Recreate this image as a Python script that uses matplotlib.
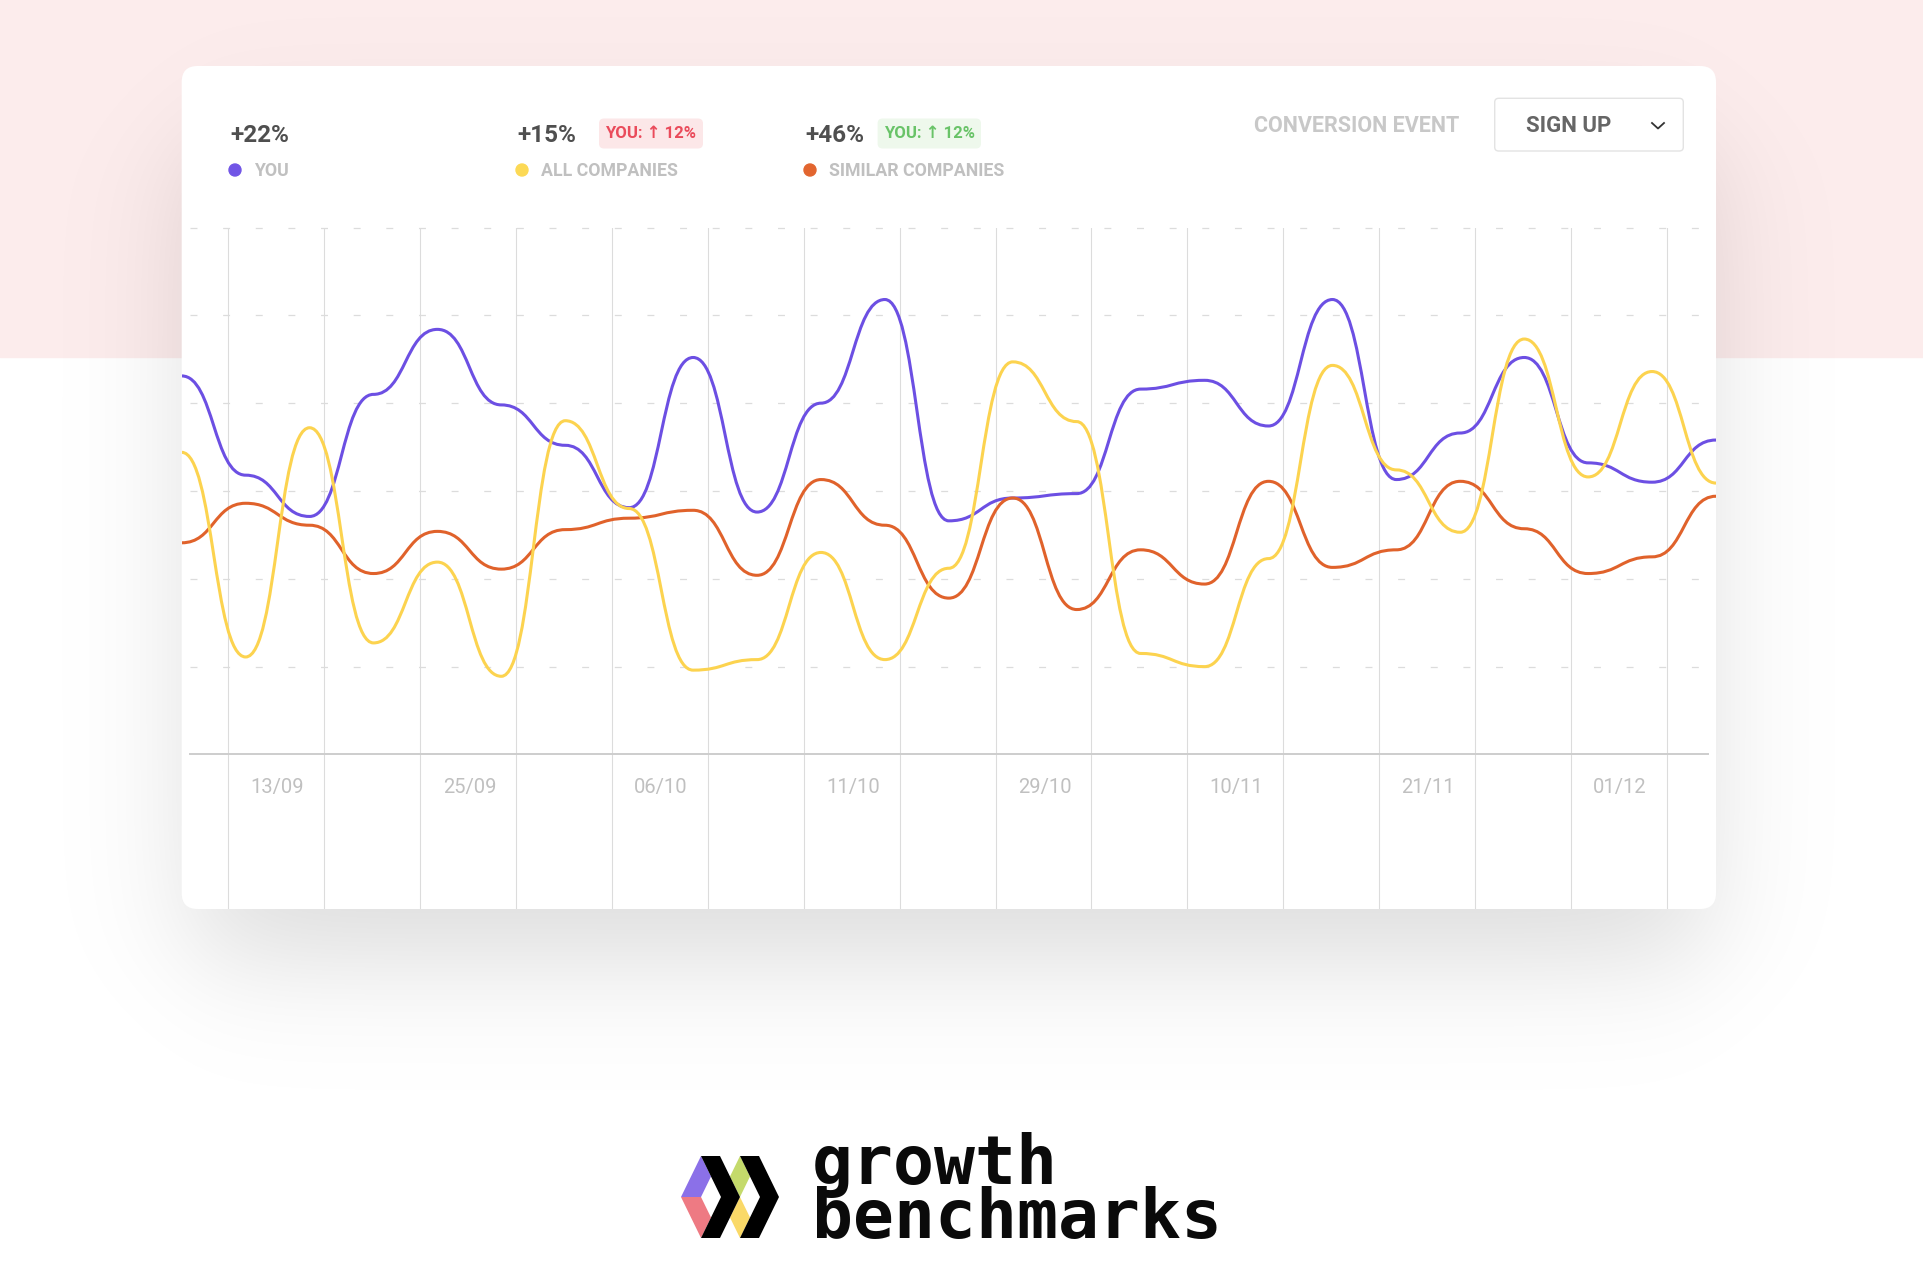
import numpy as np
import matplotlib
matplotlib.use("Agg")
import matplotlib.pyplot as plt
from matplotlib.path import Path
from matplotlib.patches import PathPatch, Rectangle, FancyBboxPatch, Polygon, Circle

plt.rcParams['font.family'] = ['Roboto', 'DejaVu Sans']
plt.rcParams['lines.scale_dashes'] = False

# ---- data (25 evenly spaced points per series) ----
you = [43.1, 31.8, 27.1, 41.0, 48.4, 39.8, 35.2, 28.1, 45.2, 27.6, 40.0, 51.8, 26.6,
       29.2, 29.7, 41.6, 42.6, 37.4, 51.8, 31.3, 36.6, 45.2, 33.2, 31.0, 35.8]
all_companies = [34.4, 11.1, 37.2, 12.7, 21.9, 8.9, 38.0, 28.0, 9.6, 10.8, 23.0, 10.8, 21.2,
                 44.7, 37.9, 11.5, 10.0, 22.3, 44.3, 32.4, 25.3, 47.3, 31.6, 43.6, 30.9]
similar = [24.1, 28.6, 26.1, 20.6, 25.4, 21.1, 25.6, 26.9, 27.8, 20.4, 31.3, 26.1, 17.8,
           29.2, 16.5, 23.3, 19.4, 31.1, 21.3, 23.3, 31.1, 25.7, 20.6, 22.5, 29.4]
date_labels = ['13/09', '25/09', '06/10', '11/10', '29/10', '10/11', '21/11', '01/12']

series_names = ['YOU', 'ALL COMPANIES', 'SIMILAR COMPANIES']
series_totals = ['+22%', '+15%', '+46%']
badges = [None, ('YOU: \u2191 12%', '#ea4b5b', '#fce7e8'), ('YOU: \u2191 12%', '#69c368', '#eef8ec')]
colors = ['#6c4fe3', '#fcd34f', '#e0622b']
dot_colors = ['#7155e6', '#fcd955', '#e2652f']


def bump_path(xs, ys):
    # smooth path with flat tangents at every point (bezier, control points at mid x)
    verts = [(xs[0], ys[0])]
    codes = [Path.MOVETO]
    for i in range(len(xs) - 1):
        mx = (xs[i] + xs[i + 1]) / 2
        verts += [(mx, ys[i]), (mx, ys[i + 1]), (xs[i + 1], ys[i + 1])]
        codes += [Path.CURVE4] * 3
    return Path(verts, codes)


W, H = 1924, 1286
fig = plt.figure(figsize=(W / 100, H / 100), dpi=100)

# background layer in pixel coordinates
bg = fig.add_axes([0, 0, 1, 1])
bg.axis('off')
bg.add_patch(Rectangle((0, 0), W, 357, color='#fcecec', zorder=0))

card_l, card_r, card_t, card_b = 181.7, 1716, 66, 909

# soft card shadow
sw, sh = W // 4, H // 4
gx = (np.arange(sw) + 0.5) * 4
gy = (np.arange(sh) + 0.5) * 4
cdf = lambda z: 1 / (1 + np.exp(-1.702 * z))
sig = 62
sx = cdf((gx - (card_l + 10)) / sig) - cdf((gx - (card_r - 10)) / sig)
sy = cdf((gy - (card_t + 80)) / sig) - cdf((gy - (card_b + 50)) / sig)
shade = np.zeros((sh, sw, 4))
shade[..., 3] = 0.14 * np.outer(sy, sx)
bg.imshow(shade, extent=(0, W, H, 0), interpolation='bilinear', aspect='auto', zorder=1)

bg.add_patch(FancyBboxPatch((card_l, card_t), card_r - card_l, card_b - card_t,
                            boxstyle='round,pad=0,rounding_size=16', fc='white', ec='none', zorder=2))
bg.set_xlim(0, W)
bg.set_ylim(H, 0)

# header: totals, badges, legend
stat_x = [230, 517, 805]
badge_box = [None, (599, 703), (877.6, 981)]
for i in range(3):
    bg.text(stat_x[i], 142, series_totals[i], fontsize=17.5, fontweight='bold', color='#4f4f4f', zorder=3)
    bg.add_patch(Circle((stat_x[i] + 5, 170), 6, color=dot_colors[i], zorder=3))
    bg.text(stat_x[i] + 24, 175.5, series_names[i], fontsize=12.8, fontweight='bold', color='#c0c0c0', zorder=3)
    if badges[i] is not None:
        txt, fg, bgc = badges[i]
        x0, x1 = badge_box[i]
        bg.add_patch(FancyBboxPatch((x0, 118.5), x1 - x0, 30, boxstyle='round,pad=0,rounding_size=5',
                                    fc=bgc, ec='none', zorder=3))
        bg.text((x0 + x1) / 2, 138.5, txt, fontsize=12, fontweight='bold', color=fg,
                ha='center', zorder=4)

bg.text(1254, 132, 'CONVERSION EVENT', fontsize=15.5, fontweight='bold', color='#c8c8c8', zorder=3)
bg.add_patch(FancyBboxPatch((1494.7, 98.3), 188.6, 52.7, boxstyle='round,pad=0,rounding_size=4',
                            fc='white', ec='#e3e3e3', lw=1, zorder=3))
bg.text(1526.5, 132.5, 'SIGN UP', fontsize=16, fontweight='bold', color='#666666', zorder=4)
bg.plot([1652, 1658, 1664], [123, 128.5, 123], color='#333333', lw=1.3, zorder=4)

# logo
T, M, B = 1156, 1197, 1238
s_run, w_ch = 20, 19
x0 = 701
x1 = x0 + w_ch + s_run
q1, q3 = (T + M) / 2, (M + B) / 2
logo_shapes = [
    ([(x0, T), (x0 + s_run / 2, q1), (x0, M), (x0 - s_run, M)], '#8b70e8'),
    ([(x0 - s_run, M), (x0, M), (x0 + s_run / 2, q3), (x0, B)], '#ee7a83'),
    ([(x1, T), (x1 + s_run / 2, q1), (x1, M), (x1 - s_run / 2, q1)], '#c4da6b'),
    ([(x1, M), (x1 + s_run / 2, q3), (x1, B), (x1 - s_run / 2, q3)], '#fad968'),
    ([(x0, T), (x0 + w_ch, T), (x0 + w_ch + s_run, M), (x0 + w_ch, B), (x0, B), (x0 + s_run, M)], '#000000'),
    ([(x1, T), (x1 + w_ch, T), (x1 + w_ch + s_run, M), (x1 + w_ch, B), (x1, B), (x1 + s_run, M)], '#000000'),
]
for pts, c in logo_shapes:
    bg.add_patch(Polygon(pts, closed=True, fc=c, ec='none', zorder=3))
bg.text(812, 1238, 'growth\nbenchmarks', family='DejaVu Sans Mono', fontweight='bold', fontsize=49,
        color='#0a0a0a', va='baseline', linespacing=0.77, zorder=3)

# chart axes
y_top, y_zero, px_per_unit = 227.5, 754.5, 8.78
y_bottom_val = (y_zero - card_b) / px_per_unit
ax = fig.add_axes([card_l / W, (H - card_b) / H, (card_r - card_l) / W, (card_b - y_top) / H])
ax.set_facecolor('none')
n = len(you)
xs = np.arange(n)
ax.set_xlim(0, n - 1)
ax.set_ylim(y_bottom_val, 60)

for k in range(16):
    ax.axvline(0.73 + 1.5 * k, color='#dcdcdc', lw=0.8, zorder=0)
for v in range(10, 70, 10):
    ax.axhline(v, xmin=0.0054, xmax=0.9948, color='#dcdcdc', lw=0.9, dashes=(5, 18.5), clip_on=False, zorder=0)

for s in ['top', 'left', 'right']:
    ax.spines[s].set_visible(False)
ax.spines['bottom'].set_position(('data', 0))
ax.spines['bottom'].set_bounds(0.13, 23.87)
ax.spines['bottom'].set_color('#cdcdcd')
ax.spines['bottom'].set_linewidth(1.4)
ax.set_yticks([])
ax.set_xticks([1.5 + 3 * m for m in range(len(date_labels))], date_labels)
ax.tick_params(axis='x', length=0, pad=17, labelsize=14.5, labelcolor='#c0c0c0')

for data, c in [(you, colors[0]), (similar, colors[2]), (all_companies, colors[1])]:
    ax.add_patch(PathPatch(bump_path(xs, data), fc='none', ec=c, lw=2.2,
                           capstyle='round', joinstyle='round', zorder=3))

fig.savefig('out.png', dpi=100)
